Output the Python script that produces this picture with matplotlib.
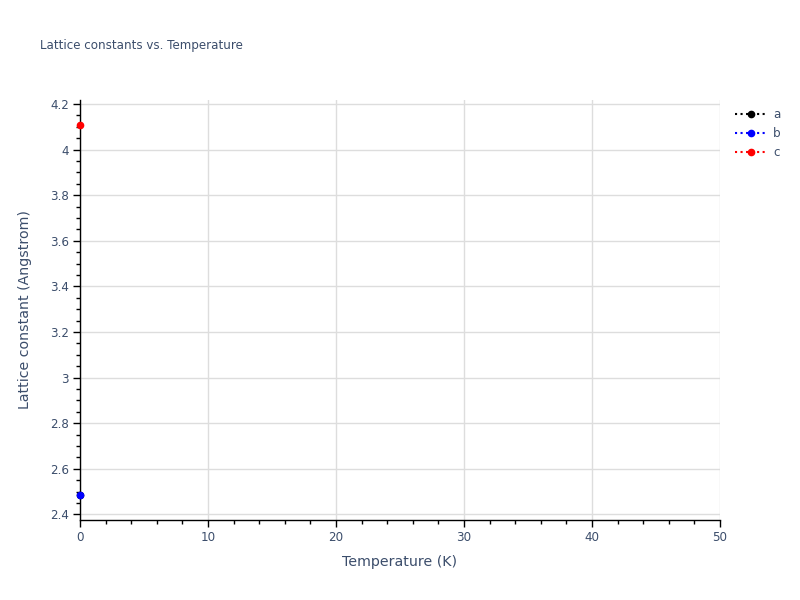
import numpy as np
import matplotlib
matplotlib.use('Agg')
import matplotlib.pyplot as plt
from matplotlib.ticker import MultipleLocator

plt.rcParams['font.family'] = ['DejaVu Sans']

# data
temperature = [0]
a_vals = [2.485]
b_vals = [2.485]
c_vals = [4.11]
series = ['a', 'b', 'c']
colors = ['black', 'blue', 'red']

text_col = '#3b4d6b'
tick_col = '#3b4d6b'

fig = plt.figure(figsize=(8, 6), dpi=100)
ax = fig.add_axes([0.1, 80/600, 0.8, 420/600])

for name, vals, col in zip(series, [a_vals, b_vals, c_vals], colors):
    ax.plot(temperature, vals, ':', color=col, marker='o', markersize=4.5,
            linewidth=1.5, label=name, clip_on=False, zorder=3)

ax.set_xlim(0, 50)
ax.set_ylim(2.375, 4.218)
ax.xaxis.set_major_locator(MultipleLocator(10))
ax.xaxis.set_minor_locator(MultipleLocator(2))
ax.yaxis.set_major_locator(MultipleLocator(0.2))
ax.yaxis.set_minor_locator(MultipleLocator(0.05))

ax.grid(True, which='major', color='#dddddd', linewidth=1)
ax.set_axisbelow(True)
for s in ['top', 'right']:
    ax.spines[s].set_visible(False)
for s in ['left', 'bottom']:
    ax.spines[s].set_color('black')
    ax.spines[s].set_linewidth(1)

ax.tick_params(which='major', direction='out', length=5, width=1, color='black',
               labelsize=8.6, labelcolor=tick_col, pad=3)
ax.tick_params(which='minor', direction='out', length=3, width=1, color='black')

ytl = ['2.4', '2.6', '2.8', '3', '3.2', '3.4', '3.6', '3.8', '4', '4.2']
ax.set_yticks([float(t) for t in ytl])
ax.set_yticklabels(ytl)

ax.set_xlabel('Temperature (K)', fontsize=10.2, color=text_col, labelpad=8)
ax.set_ylabel('Lattice constant (Angstrom)', fontsize=10.2, color=text_col, labelpad=13)

fig.text(40/800, 1 - 46/600, 'Lattice constants vs. Temperature', fontsize=8.6,
         color=text_col, va='center', ha='left')

leg = ax.legend(loc='upper left', bbox_to_anchor=(1.01, 1.0), frameon=False,
                fontsize=8.6, handlelength=2.7, handletextpad=0.5,
                labelspacing=0.5, borderaxespad=0.3)
for t in leg.get_texts():
    t.set_color(tick_col)

fig.savefig('out.png', dpi=100)
